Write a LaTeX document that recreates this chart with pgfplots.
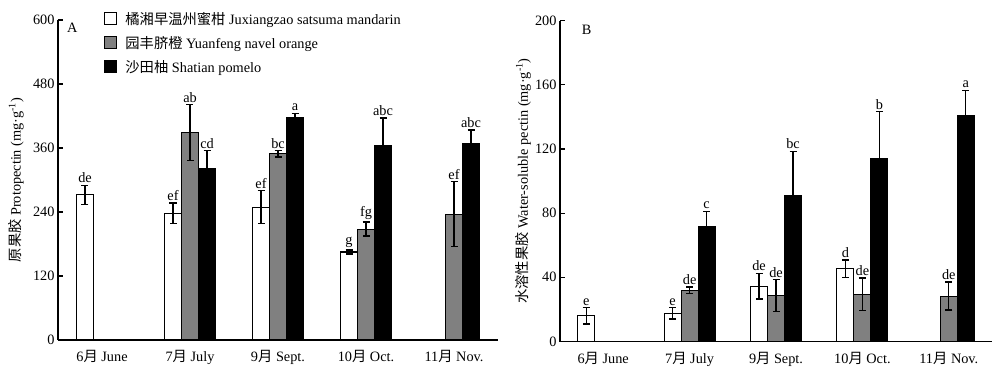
\documentclass[border=0pt]{standalone}
\usepackage{fontspec}
\setmainfont{Liberation Serif}
\newfontfamily\cjk{Noto Sans CJK SC}
\usepackage{pgfplots}
\usepackage{pgfplotstable}
\pgfplotsset{compat=1.18}

% Protopectin
\pgfplotstableread{
x y e lab
0 272 18 de
1 238 19 ef
2 249 31 ef
3 165 4 g
}\Lw
\pgfplotstableread{
x y e lab
1 389 52 ab
2 349 6 bc
3 208 13 fg
4 236 61 ef
}\Lg
\pgfplotstableread{
x y e lab
1 321 34 cd
2 418 7 a
3 364 52 abc
4 368 26 abc
}\Lb
% Water-soluble pectin
\pgfplotstableread{
x y e lab
0 16 5 e
1 17.5 3.5 e
2 34.5 8 de
3 45.3 5.5 d
}\Rw
\pgfplotstableread{
x y e lab
1 32 2 de
2 28.5 10 de
3 29.5 10 de
4 28.3 8.7 de
}\Rg
\pgfplotstableread{
x y e lab
1 71.7 9.5 c
2 91 27.5 bc
3 113.7 29.7 b
4 140.5 16 a
}\Rb

\definecolor{midgray}{RGB}{128,128,128}
\newcommand{\fs}{\fontsize{14.3}{17}\selectfont}

\pgfplotsset{
  base/.style={
    scale only axis, anchor=south west,
    xmin=-0.5, xmax=4.5, xtick={0,1,2,3,4},
    xticklabels={6{\cjk 月} June, 7{\cjk 月} July, 9{\cjk 月} Sept., 10{\cjk 月} Oct., 11{\cjk 月} Nov.},
    axis x line*=bottom, axis y line*=left,
    axis line style={-, line width=1.3pt},
    xtick style={draw=none},
    ytick style={line width=1.2pt, black},
    tick align=inside, major tick length=5pt,
    font=\fs, tick label style={font=\fs},
    xticklabel style={yshift=-7pt},
    /pgf/number format/assume math mode=true,
    clip=false,
  },
  lg/.style={legend image code/.code={\draw[##1, line width=1pt] (0pt,-5.5pt) rectangle (12pt,6.5pt); \path (18pt,0pt);}},
  eb/.style={
    /pgfplots/error bars/y dir=both, /pgfplots/error bars/y explicit,
    /pgfplots/error bars/error bar style={line width=1.3pt, black, solid, xshift=#1},
    /pgfplots/error bars/error mark options={rotate=90, mark size=3.5pt, line width=1.3pt, black}},
  bar/.style={ybar, bar width=17pt, bar shift=#1, draw=black, line width=1.1pt, lg, eb=#1},
  lab/.style={forget plot, draw=none, mark=none, nodes near coords, point meta=explicit symbolic,
    every node near coord/.append style={xshift=#1, anchor=south, inner sep=2pt, font=\fs, black}},
}

\begin{document}
\begin{tikzpicture}
\useasboundingbox (0pt,0pt) rectangle (1000pt,376pt);
\begin{axis}[base, at={(58pt,36pt)}, width=440pt, height=320pt,
  ymin=0, ymax=600, ytick={0,120,...,600},
  ylabel={{\cjk 原果胶} Protopectin (mg·g\textsuperscript{-1})},
  ylabel style={at={(axis description cs:-0.095,0.5)}, anchor=center, font=\fs},
  legend style={at={(axis description cs:0.105,1.03)}, anchor=north west, draw=none, fill=none,
    font=\fs, row sep=6.5pt, inner sep=0pt},
  legend cell align=left,
]
\addplot[bar=-17pt, fill=white] table[x=x,y=y,y error=e]{\Lw};
\addlegendentry{{\cjk 橘湘早温州蜜柑} Juxiangzao satsuma mandarin}
\addplot[bar=0pt, fill=midgray] table[x=x,y=y,y error=e]{\Lg};
\addlegendentry{{\cjk 园丰脐橙} Yuanfeng navel orange}
\addplot[bar=17pt, fill=black] table[x=x,y=y,y error=e]{\Lb};
\addlegendentry{{\cjk 沙田柚} Shatian pomelo}
\addplot[lab=-17pt] table[x=x, y expr=\thisrow{y}+\thisrow{e}, meta=lab]{\Lw};
\addplot[lab=0pt] table[x=x, y expr=\thisrow{y}+\thisrow{e}, meta=lab]{\Lg};
\addplot[lab=17pt] table[x=x, y expr=\thisrow{y}+\thisrow{e}, meta=lab]{\Lb};
\node[anchor=north west, inner sep=0pt, font=\fs] at (rel axis cs:0.02,0.99) {A};
\end{axis}
\begin{axis}[base, at={(560pt,34.5pt)}, width=432pt, height=321pt,
  ymin=0, ymax=200, ytick={0,40,...,200},
  ylabel={{\cjk 水溶性果胶} Water-soluble pectin (mg·g\textsuperscript{-1})},
  ylabel style={at={(axis description cs:-0.085,0.5)}, anchor=center, font=\fs},
]
\addplot[bar=-17pt, fill=white] table[x=x,y=y,y error=e]{\Rw};
\addplot[bar=0pt, fill=midgray] table[x=x,y=y,y error=e]{\Rg};
\addplot[bar=17pt, fill=black] table[x=x,y=y,y error=e]{\Rb};
\addplot[lab=-17pt] table[x=x, y expr=\thisrow{y}+\thisrow{e}, meta=lab]{\Rw};
\addplot[lab=0pt] table[x=x, y expr=\thisrow{y}+\thisrow{e}, meta=lab]{\Rg};
\addplot[lab=17pt] table[x=x, y expr=\thisrow{y}+\thisrow{e}, meta=lab]{\Rb};
\node[anchor=north west, inner sep=0pt, font=\fs] at (rel axis cs:0.05,0.985) {B};
\end{axis}
\end{tikzpicture}
\end{document}
